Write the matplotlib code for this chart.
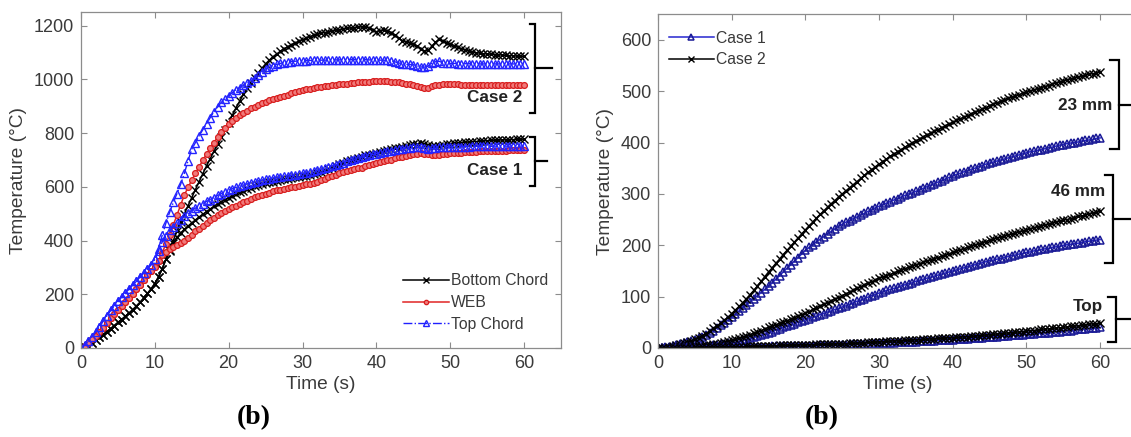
import numpy as np
import matplotlib
matplotlib.use('Agg')
import matplotlib.pyplot as plt

plt.rcParams['font.family'] = ['Liberation Sans', 'DejaVu Sans']

# time base, 0.5 s steps
t = np.arange(0, 60.5, 0.5)

# ---- left panel: chord / web temperatures (°C) ----
bottom_case2 = [0, 2, 8, 18, 30, 40, 50, 61, 72, 83,
                95, 106, 118, 130, 142, 156, 170, 186, 203, 220,
                240, 265, 295, 330, 365, 400, 435, 468, 500, 530,
                560, 590, 620, 649, 678, 705, 732, 758, 785, 812,
                838, 867, 895, 920, 945, 967, 988, 1007, 1025, 1042,
                1058, 1072, 1085, 1095, 1105, 1114, 1122, 1129, 1135, 1142,
                1148, 1154, 1160, 1164, 1168, 1172, 1175, 1178, 1180, 1183,
                1185, 1188, 1190, 1192, 1193, 1195, 1196, 1196, 1192, 1184,
                1178, 1182, 1184, 1182, 1175, 1164, 1153, 1145, 1140, 1136,
                1132, 1124, 1115, 1106, 1108, 1124, 1138, 1150, 1143, 1137,
                1132, 1126, 1120, 1115, 1110, 1106, 1103, 1100, 1098, 1096,
                1095, 1094, 1093, 1092, 1091, 1090, 1089, 1088, 1087, 1087,
                1086]
bottom_case1 = [0, 2, 8, 18, 30, 40, 50, 61, 72, 83,
                95, 106, 118, 130, 142, 156, 170, 186, 203, 220,
                240, 265, 295, 330, 360, 390, 412, 428, 442, 454,
                466, 477, 488, 498, 508, 518, 527, 536, 545, 553,
                560, 567, 574, 580, 586, 592, 597, 602, 606, 610,
                614, 617, 620, 623, 626, 629, 631, 634, 636, 638,
                640, 642, 644, 647, 650, 655, 660, 666, 672, 678,
                684, 690, 695, 700, 705, 709, 713, 717, 720, 724,
                727, 731, 734, 737, 740, 743, 746, 749, 752, 755,
                758, 760, 762, 760, 755, 752, 752, 754, 756, 758,
                760, 762, 763, 765, 766, 767, 768, 769, 770, 771,
                772, 773, 774, 774, 775, 775, 776, 776, 777, 777,
                778]
web_case2 = [0, 8, 20, 32, 45, 60, 75, 92, 110, 125,
             140, 155, 170, 185, 200, 218, 235, 252, 270, 285,
             300, 325, 355, 388, 420, 458, 495, 533, 570, 598,
             625, 650, 675, 699, 722, 744, 765, 785, 805, 820,
             835, 846, 857, 866, 875, 884, 892, 899, 905, 911,
             917, 922, 926, 931, 935, 939, 943, 948, 952, 956,
             960, 963, 966, 969, 971, 973, 975, 977, 979, 981,
             982, 984, 985, 987, 988, 989, 990, 991, 992, 993,
             993, 994, 993, 993, 992, 991, 990, 988, 985, 983,
             980, 976, 972, 968, 970, 975, 978, 980, 982, 982,
             982, 982, 982, 981, 981, 981, 981, 981, 981, 981,
             981, 981, 981, 981, 981, 981, 981, 981, 981, 981,
             981]
web_case1 = [0, 8, 20, 32, 45, 60, 75, 92, 110, 125,
             140, 155, 170, 185, 200, 218, 235, 252, 270, 285,
             300, 325, 345, 358, 368, 376, 382, 391, 400, 411,
             422, 434, 445, 456, 466, 476, 485, 494, 502, 510,
             517, 524, 530, 537, 543, 549, 555, 561, 566, 571,
             575, 579, 583, 587, 590, 593, 596, 599, 601, 603,
             606, 609, 612, 616, 620, 625, 630, 635, 640, 645,
             650, 654, 658, 662, 665, 669, 672, 676, 680, 684,
             688, 692, 695, 699, 702, 706, 710, 713, 716, 719,
             721, 723, 725, 724, 722, 719, 718, 720, 722, 724,
             725, 726, 727, 728, 729, 730, 731, 731, 732, 732,
             733, 733, 734, 734, 735, 735, 736, 736, 737, 737,
             738]
top_case2 = [0, 10, 25, 42, 60, 80, 100, 120, 140, 158,
             175, 190, 205, 220, 235, 250, 265, 280, 295, 310,
             330, 370, 420, 465, 505, 542, 575, 610, 650, 698,
             740, 765, 790, 813, 835, 858, 880, 898, 915, 928,
             940, 951, 962, 970, 978, 987, 995, 1005, 1015, 1028,
             1040, 1046, 1052, 1056, 1060, 1063, 1065, 1067, 1068, 1069,
             1070, 1070, 1071, 1071, 1072, 1072, 1072, 1073, 1073, 1073,
             1073, 1074, 1074, 1074, 1074, 1074, 1074, 1074, 1073, 1073,
             1073, 1072, 1072, 1071, 1070, 1066, 1062, 1058, 1056, 1056,
             1055, 1051, 1047, 1046, 1050, 1060, 1066, 1068, 1062, 1061,
             1060, 1060, 1059, 1059, 1059, 1059, 1058, 1058, 1058, 1058,
             1058, 1058, 1058, 1058, 1058, 1058, 1058, 1058, 1058, 1058,
             1058]
top_case1 = [0, 10, 25, 42, 60, 80, 100, 120, 140, 158,
             175, 190, 205, 220, 235, 250, 265, 280, 295, 310,
             330, 360, 395, 418, 438, 452, 465, 478, 490, 501,
             512, 521, 530, 538, 546, 553, 560, 568, 575, 582,
             588, 593, 598, 603, 607, 611, 615, 619, 622, 625,
             628, 631, 633, 635, 637, 639, 641, 643, 645, 647,
             650, 652, 655, 658, 662, 666, 670, 674, 678, 682,
             686, 690, 695, 699, 703, 707, 711, 715, 718, 721,
             724, 727, 730, 733, 735, 738, 740, 742, 744, 746,
             748, 748, 747, 744, 742, 743, 745, 747, 748, 749,
             749, 749, 750, 750, 750, 750, 751, 751, 751, 751,
             751, 751, 752, 752, 752, 752, 752, 752, 752, 752,
             752]

# ---- right panel: temperatures at depth (°C) ----
d23_case2 = [0, 0, 1, 2, 3, 5, 7, 9, 11, 14,
             17, 20, 24, 28, 33, 38, 43, 48, 54, 60,
             67, 74, 81, 88, 96, 104, 112, 121, 130, 139,
             148, 156, 165, 173, 182, 190, 198, 206, 214, 222,
             230, 238, 245, 253, 260, 267, 274, 281, 287, 294,
             300, 306, 312, 318, 324, 330, 336, 342, 347, 353,
             358, 363, 368, 373, 377, 382, 386, 391, 395, 399,
             403, 407, 411, 415, 418, 422, 425, 429, 432, 436,
             439, 443, 446, 449, 452, 456, 459, 462, 465, 468,
             472, 475, 477, 480, 483, 486, 488, 491, 493, 496,
             498, 500, 502, 505, 507, 509, 511, 514, 516, 518,
             520, 522, 524, 526, 527, 529, 531, 533, 534, 536,
             537]
d23_case1 = [0, 0, 1, 2, 3, 5, 7, 9, 11, 13,
             16, 19, 22, 26, 30, 34, 39, 44, 49, 54,
             60, 66, 72, 78, 84, 90, 96, 102, 108, 114,
             120, 127, 134, 141, 148, 155, 162, 169, 176, 183,
             190, 196, 201, 207, 212, 217, 222, 227, 232, 237,
             241, 245, 248, 252, 255, 259, 262, 266, 269, 273,
             276, 279, 282, 285, 288, 291, 294, 297, 300, 302,
             305, 308, 311, 314, 317, 320, 323, 326, 329, 332,
             335, 338, 340, 343, 345, 348, 350, 353, 355, 358,
             360, 362, 364, 366, 368, 370, 372, 374, 376, 378,
             380, 382, 383, 385, 386, 388, 390, 391, 393, 395,
             396, 398, 399, 400, 401, 403, 404, 405, 406, 408,
             409]
d46_case2 = [0, 0, 0, 0, 1, 1, 1, 1, 2, 2,
             3, 3, 4, 5, 6, 7, 8, 9, 11, 13,
             15, 17, 19, 21, 24, 26, 29, 31, 34, 37,
             40, 42, 45, 48, 51, 53, 56, 59, 62, 65,
             68, 71, 75, 78, 82, 85, 88, 92, 95, 98,
             102, 105, 109, 112, 116, 119, 123, 126, 129, 132,
             136, 138, 141, 143, 146, 149, 152, 154, 157, 159,
             162, 164, 167, 169, 172, 174, 176, 179, 181, 183,
             186, 188, 191, 193, 196, 198, 200, 203, 205, 207,
             210, 212, 214, 216, 218, 220, 222, 224, 226, 228,
             230, 232, 234, 236, 238, 239, 241, 243, 245, 247,
             249, 250, 252, 254, 256, 257, 259, 261, 263, 264,
             266]
d46_case1 = [0, 0, 0, 0, 0, 0, 1, 1, 1, 1,
             2, 2, 3, 3, 4, 5, 6, 7, 8, 9,
             10, 11, 13, 15, 17, 19, 21, 23, 25, 27,
             30, 32, 35, 37, 40, 42, 45, 47, 50, 52,
             55, 57, 60, 62, 65, 67, 70, 72, 75, 77,
             80, 82, 85, 88, 91, 93, 96, 99, 102, 104,
             107, 109, 112, 114, 116, 118, 121, 123, 125, 127,
             130, 132, 134, 136, 138, 140, 142, 144, 146, 148,
             150, 152, 154, 156, 158, 160, 162, 164, 166, 168,
             170, 171, 173, 174, 176, 178, 180, 181, 183, 184,
             186, 187, 189, 190, 192, 193, 194, 196, 197, 198,
             200, 201, 202, 203, 204, 205, 207, 208, 209, 210,
             211]
surf_case2 = [0, 0, 0, 0, 0, 0, 0, 0, 0, 0,
              1, 1, 1, 1, 1, 1, 1, 1, 1, 2,
              2, 2, 2, 2, 3, 3, 3, 3, 3, 4,
              4, 4, 4, 5, 5, 5, 5, 5, 6, 6,
              6, 6, 6, 7, 7, 7, 7, 7, 8, 8,
              8, 8, 9, 9, 9, 10, 10, 11, 11, 11,
              12, 12, 13, 13, 14, 14, 14, 15, 15, 16,
              16, 16, 17, 17, 18, 18, 19, 19, 20, 20,
              20, 21, 21, 22, 22, 23, 23, 24, 25, 25,
              26, 27, 27, 28, 29, 29, 30, 31, 31, 32,
              33, 34, 34, 35, 36, 37, 37, 38, 39, 39,
              40, 41, 42, 43, 43, 44, 45, 46, 47, 47,
              48]
surf_case1 = [0, 0, 0, 0, 0, 0, 0, 0, 0, 0,
              0, 0, 0, 0, 0, 1, 1, 1, 1, 1,
              1, 1, 1, 1, 2, 2, 2, 2, 2, 2,
              2, 3, 3, 3, 3, 3, 3, 3, 4, 4,
              4, 4, 4, 4, 5, 5, 5, 5, 6, 6,
              6, 6, 7, 7, 7, 7, 8, 8, 8, 9,
              9, 9, 10, 10, 10, 11, 11, 11, 12, 12,
              12, 13, 13, 14, 14, 14, 15, 15, 16, 16,
              16, 17, 17, 18, 18, 19, 19, 20, 20, 21,
              21, 22, 22, 23, 24, 24, 25, 25, 26, 26,
              27, 27, 28, 29, 29, 30, 30, 31, 32, 32,
              33, 34, 34, 35, 36, 36, 37, 38, 38, 39,
              40]

GRAY = '#8c8c8c'
TXT = '#3a3a3a'


def style_axes(ax, ylim, yticks):
    ax.set_xlim(0, 65)
    ax.set_ylim(*ylim)
    ax.set_xticks(range(0, 61, 10))
    ax.set_yticks(yticks)
    ax.tick_params(direction='in', length=4, width=0.8, color=GRAY,
                   labelcolor=TXT, labelsize=13, top=True, right=True, pad=5)
    for s in ax.spines.values():
        s.set_color(GRAY)
        s.set_linewidth(0.9)
    ax.set_xlabel('Time (s)', fontsize=13.8, color=TXT, labelpad=3)
    ax.set_ylabel('Temperature (\u00b0C)', fontsize=13.8, color=TXT, labelpad=5)


def bracket(ax, x_hook, x_bar, x_end, y_lo, y_hi):
    ym = (y_lo + y_hi) / 2
    ax.plot([x_hook, x_bar, x_bar, x_hook], [y_hi, y_hi, y_lo, y_lo],
            color='k', lw=1.6, clip_on=False, solid_joinstyle='miter')
    ax.plot([x_bar, x_end], [ym, ym], color='k', lw=1.6, clip_on=False)


fig = plt.figure(figsize=(11.31, 4.37), dpi=100)
ax1 = fig.add_axes([0.0716, 0.2037, 0.4244, 0.768])
ax2 = fig.add_axes([0.5818, 0.2037, 0.4235, 0.764])

# left panel
bk = dict(color='k', lw=1.1, marker='x', ms=5.5, mew=1.0)
rd = dict(color='#e02424', lw=1.1, marker='o', ms=4.2, mfc='#f07a7a', mec='#d81e1e', mew=0.9)
bl = dict(color='#1f1fff', lw=1.0, ls='-.', marker='^', ms=6.2, mfc='none', mec='#2424ff', mew=1.0)

ax1.plot(t, bottom_case2, label='Bottom Chord', **bk)
ax1.plot(t, web_case2, label='WEB', **rd)
ax1.plot(t, top_case2, label='Top Chord', **bl)
ax1.plot(t, bottom_case1, **bk)
ax1.plot(t, web_case1, **rd)
ax1.plot(t, top_case1, **bl)
style_axes(ax1, (0, 1250), range(0, 1201, 200))
ax1.legend(loc='upper left', bbox_to_anchor=(0.671, 0.222), frameon=False,
           fontsize=11.3, borderpad=0, borderaxespad=0, handlelength=2.9,
           handletextpad=0.15, labelspacing=0.42, markerscale=0.75,
           labelcolor=TXT)

bracket(ax1, 60.8, 61.5, 63.8, 875, 1208)
bracket(ax1, 60.8, 61.5, 63.1, 605, 787)
ax1.text(59.8, 933, 'Case 2', ha='right', va='center', fontsize=12.3, fontweight='bold', color='#222222')
ax1.text(59.8, 661, 'Case 1', ha='right', va='center', fontsize=12.3, fontweight='bold', color='#222222')

# right panel
c1 = dict(color='#2626d0', lw=1.1, marker='^', ms=6.2, mfc='none', mec='#1a1a96', mew=1.1)
c2 = dict(color='k', lw=1.1, marker='x', ms=5.5, mew=1.0)
ax2.plot(t, d23_case1, label='Case 1', **c1)
ax2.plot(t, d23_case2, label='Case 2', **c2)
ax2.plot(t, d46_case1, **c1)
ax2.plot(t, d46_case2, **c2)
ax2.plot(t, surf_case1, **c1)
ax2.plot(t, surf_case2, **c2)
style_axes(ax2, (0, 650), range(0, 601, 100))
ax2.legend(loc='upper left', bbox_to_anchor=(0.022, 0.95), frameon=False,
           fontsize=11.3, borderpad=0, borderaxespad=0, handlelength=2.9,
           handletextpad=0.15, labelspacing=0.42, markerscale=0.75,
           labelcolor=TXT)

bracket(ax2, 61.4, 62.5, 67, 388, 560)
bracket(ax2, 60.7, 61.7, 67, 165, 337)
bracket(ax2, 61.0, 62.1, 67, 12, 100)
ax2.text(61.6, 472, '23 mm', ha='right', va='center', fontsize=12.3, fontweight='bold', color='#222222')
ax2.text(60.7, 305, '46 mm', ha='right', va='center', fontsize=12.3, fontweight='bold', color='#222222')
ax2.text(60.4, 80, 'Top', ha='right', va='center', fontsize=12.3, fontweight='bold', color='#222222')

# panel tags
fig.text(0.224, 0.045, '(b)', ha='center', va='center', fontsize=20,
         fontweight='bold', family=['Liberation Serif', 'DejaVu Serif'])
fig.text(0.727, 0.045, '(b)', ha='center', va='center', fontsize=20,
         fontweight='bold', family=['Liberation Serif', 'DejaVu Serif'])

fig.savefig('out.png', dpi=100)
